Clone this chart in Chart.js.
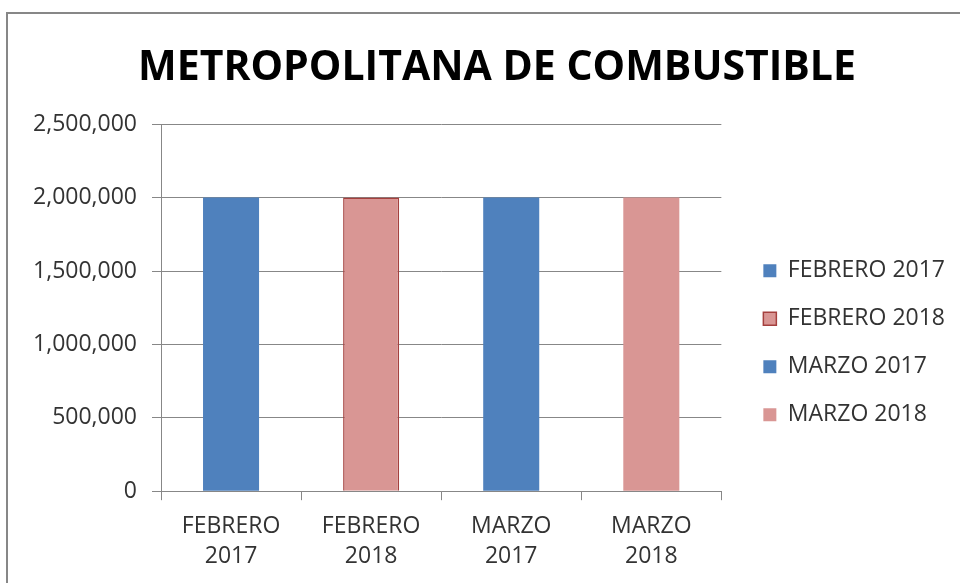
<!DOCTYPE html>
<html>
<head>
<meta charset="utf-8">
<script src="https://cdn.jsdelivr.net/npm/chart.js@4.4.0/dist/chart.umd.min.js"></script>
<style>
html, body { margin:0; padding:0; background:#fff; overflow:hidden; width:960px; height:583px; }
#frame { position:absolute; left:6px; top:12px; width:1000px; height:600px; border-left:2px solid #878787; border-top:2px solid #878787; }
#wrap { position:relative; width:978px; height:580px; }
</style>
</head>
<body>
<div id="frame"><div id="wrap"><canvas id="barChart"></canvas></div></div>
<script>
// data
const categories = ['FEBRERO 2017', 'FEBRERO 2018', 'MARZO 2017', 'MARZO 2018'];
const volumes = [2000000, 2000000, 2000000, 2000000];
const xTickLabels = [['FEBRERO', '2017'], ['FEBRERO', '2018'], ['MARZO', '2017'], ['MARZO', '2018']];
const yMin = 0, yMax = 2500000, yStep = 500000;

// styles
const barColors = ['#4F81BD', '#D99694', '#4F81BD', '#D99694'];
const barBorders = ['#4F81BD', '#A5403E', '#4F81BD', '#D99694'];
const barBorderWidths = [0, 1.5, 0, 0];
const lineGray = '#878787';
const textColor = '#333333';

// excel look: title centered on the whole chart, legend closer to the plot
const excelLayout = {
	id: 'excelLayout',
	afterLayout(chart) {
		let tb = chart.titleBlock;
		tb.left = 0;
		tb.right = chart.width;

		let lg = chart.legend;
		let dx = chart.chartArea.right + 17 - lg.left;
		let dy = chart.chartArea.top + 110 - lg.top;
		lg.left += dx; lg.right += dx;
		lg.top += dy; lg.bottom += dy;
	}
};

let ctx = document.getElementById('barChart').getContext('2d');

let myBarChart = new Chart(ctx, {
	type: 'bar',
	data: {
		labels: xTickLabels,
		datasets: [{
			label: 'METROPOLITANA DE COMBUSTIBLE',
			data: volumes,
			backgroundColor: barColors,
			borderColor: barBorders,
			borderWidth: barBorderWidths,
			categoryPercentage: 1,
			barPercentage: 0.4
		}]
	},
	options: {
		responsive: true,
		maintainAspectRatio: false,
		animation: false,
		layout: {
			padding: { top: 0, bottom: 12, left: 0, right: 48 }
		},
		plugins: {
			title: {
				display: true,
				text: 'METROPOLITANA DE COMBUSTIBLE',
				color: '#000000',
				font: { family: "'Open Sans', sans-serif", size: 41, weight: 'bold' },
				padding: { top: 30, bottom: 31 }
			},
			legend: {
				position: 'right',
				align: 'start',
				labels: {
					boxWidth: 13,
					boxHeight: 13,
					padding: 25,
					color: textColor,
					font: { family: "'Open Sans', sans-serif", size: 23 },
					generateLabels: function (chart) {
						return categories.map((c, i) => ({
							text: c,
							fillStyle: barColors[i],
							strokeStyle: barBorders[i],
							lineWidth: barBorderWidths[i],
							fontColor: textColor,
							hidden: false,
							index: i
						}));
					}
				}
			},
			tooltip: { enabled: false }
		},
		scales: {
			x: {
				offset: true,
				grid: {
					offset: true,
					drawOnChartArea: false,
					drawTicks: true,
					tickLength: 9,
					color: lineGray
				},
				border: { display: true, color: lineGray },
				ticks: {
					color: textColor,
					padding: 11,
					maxRotation: 0,
					font: { family: "'Open Sans', sans-serif", size: 23, lineHeight: 1.3 }
				}
			},
			y: {
				min: yMin,
				max: yMax,
				afterFit: function (axis) { axis.width = 153; },
				grid: {
					color: lineGray,
					drawTicks: true,
					tickLength: 9
				},
				border: { display: true, color: lineGray },
				ticks: {
					stepSize: yStep,
					color: textColor,
					padding: 15,
					font: { family: "'Open Sans', sans-serif", size: 23 },
					callback: function (v) { return v.toLocaleString('en-US'); }
				}
			}
		}
	},
	plugins: [excelLayout]
});
</script>
</body>
</html>
